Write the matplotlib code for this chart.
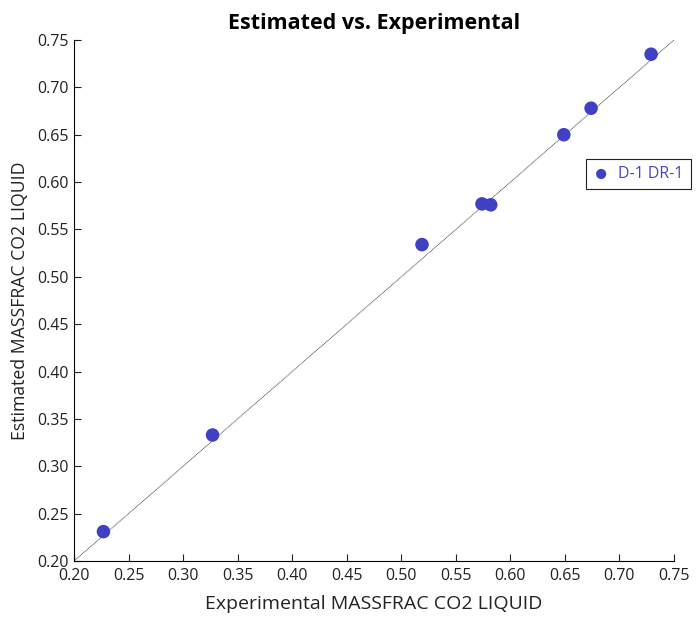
import matplotlib
matplotlib.use("Agg")
import matplotlib.pyplot as plt

plt.rcParams['font.family'] = ['Open Sans', 'DejaVu Sans']

# experimental vs estimated mass fraction of CO2 in liquid
experimental = [0.227, 0.327, 0.519, 0.574, 0.582, 0.649, 0.674, 0.729]
estimated = [0.231, 0.333, 0.534, 0.577, 0.576, 0.650, 0.678, 0.735]
series_name = 'D-1 DR-1'

fig = plt.figure(figsize=(6.96, 6.21), dpi=100)
ax = fig.add_axes([74 / 696, 60 / 621, 600 / 696, 521 / 621])

# parity line
ax.plot([0.2, 0.75], [0.2, 0.75], color='#555555', lw=0.7, ls=(0, (1, 0.6)), zorder=1)
pts = ax.scatter(experimental, estimated, s=95, color='#4040c4', edgecolors='none',
                 zorder=3, label=series_name)

ax.set_xlim(0.2, 0.75)
ax.set_ylim(0.2, 0.75)
ticks = [0.20, 0.25, 0.30, 0.35, 0.40, 0.45, 0.50, 0.55, 0.60, 0.65, 0.70, 0.75]
ax.set_xticks(ticks)
ax.set_yticks(ticks)
ax.set_xticklabels(['%.2f' % t for t in ticks])
ax.set_yticklabels(['%.2f' % t for t in ticks])
ax.tick_params(direction='in', length=5, width=0.8, labelsize=11.5, colors='#222222')
ax.tick_params(axis='x', pad=5)
ax.tick_params(axis='y', pad=4)

ax.spines['top'].set_visible(False)
ax.spines['right'].set_visible(False)

ax.set_xlabel('Experimental MASSFRAC CO2 LIQUID', fontsize=14, labelpad=8, color='#222222')
ax.set_ylabel('Estimated MASSFRAC CO2 LIQUID', fontsize=12.7, labelpad=6, color='#222222')
ax.set_title('Estimated vs. Experimental', fontsize=15.5, fontweight='bold', pad=8)

leg = fig.legend(handles=[pts], loc='upper left', bbox_to_anchor=(586 / 696, 1 - 159 / 621),
                 borderaxespad=0, fancybox=False, edgecolor='#222222', fontsize=11.5,
                 handlelength=1.0, handletextpad=0.55, borderpad=0.45, framealpha=1,
                 scatterpoints=1, markerscale=0.75)
leg.get_frame().set_linewidth(0.8)
for t in leg.get_texts():
    t.set_color('#4545c8')

fig.savefig('out.png', dpi=100)
